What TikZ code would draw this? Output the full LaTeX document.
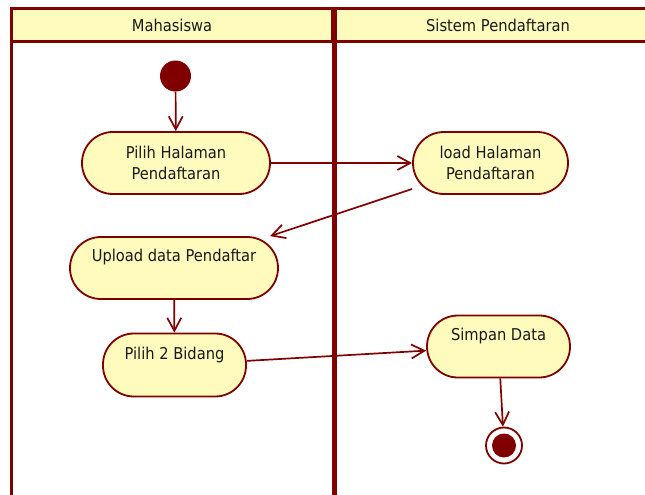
\documentclass[tikz,border=0pt]{standalone}
\usepackage{fontspec}
\setmainfont{DejaVu Sans}[FakeStretch=0.9]
\usepackage{xcolor}
\definecolor{cLine}{HTML}{800000}
\definecolor{cFill}{HTML}{FFFBBD}
\definecolor{cText}{HTML}{1A1A1A}
\usepackage{tikz}
\usetikzlibrary{arrows.meta}
\tikzset{
  node-act/.style={draw=cLine,line width=1.8pt,fill=cFill,rectangle,
    rounded corners=30.9pt,minimum height=62pt,inner sep=0pt,
    align=center,text=cText},
  node-start/.style={circle,fill=cLine,minimum size=31pt,inner sep=0pt},
  node-end/.style={circle,draw=cLine,line width=1.8pt,fill=white,
    minimum size=36pt,inner sep=0pt},
  lane-head/.style={draw=cLine,line width=3.2pt,fill=cFill},
  lane-line/.style={draw=cLine,line width=3.2pt},
  lane-label/.style={text=cText},
  arrow/.style={-{Straight Barb[length=13pt,width=14pt]},line width=1.7pt,
    draw=cLine},
}

\begin{document}
\begin{tikzpicture}[x=1pt,y=-1pt,font=\fontsize{16.3}{21}\selectfont]
  \useasboundingbox (0,0) rectangle (645,495);
  % lajur (swimlane)
  \draw[lane-head] (11.5,8.5) rectangle (333,41.5);
  \draw[lane-head] (335.5,8.5) rectangle (662,41.5);
  \draw[lane-line] (11.5,41.5) -- (11.5,500);
  \draw[draw=cLine,line width=5pt] (334.5,41.5) -- (334.5,500);
  \node[lane-label] (h-mhs) at (172,25.5) {Mahasiswa};
  \node[lane-label] (h-sis) at (498,25.5) {Sistem Pendaftaran};
  % aktivitas
  \node[node-start] (start) at (175.5,76) {};
  \node[node-act,minimum width=188pt] (pilih-hal) at (176,163)
    {Pilih Halaman\\Pendaftaran};
  \node[node-act,minimum width=155pt] (load-hal) at (490.5,163)
    {load Halaman\\Pendaftaran};
  \node[node-act,minimum width=208pt] (upload) at (174,268)
    {Upload data Pendaftar\\\vphantom{Pg}};
  \node[node-act,minimum width=143pt,minimum height=63pt] (bidang)
    at (174.5,365) {Pilih 2 Bidang\\\vphantom{Pg}};
  \node[node-act,minimum width=143pt] (simpan) at (498.5,346.5)
    {Simpan Data\\\vphantom{Pg}};
  \node[node-end] (end) at (504,445.5) {};
  \fill[cLine] (end) circle (12pt);
  % alur
  \draw[arrow] (start) -- (pilih-hal);
  \draw[arrow] (pilih-hal) -- (load-hal);
  \draw[arrow] (load-hal) -- (upload);
  \draw[arrow] (upload) -- (bidang);
  \draw[arrow] (bidang) -- (simpan);
  \draw[arrow] (simpan) -- (end);
\end{tikzpicture}
\end{document}
